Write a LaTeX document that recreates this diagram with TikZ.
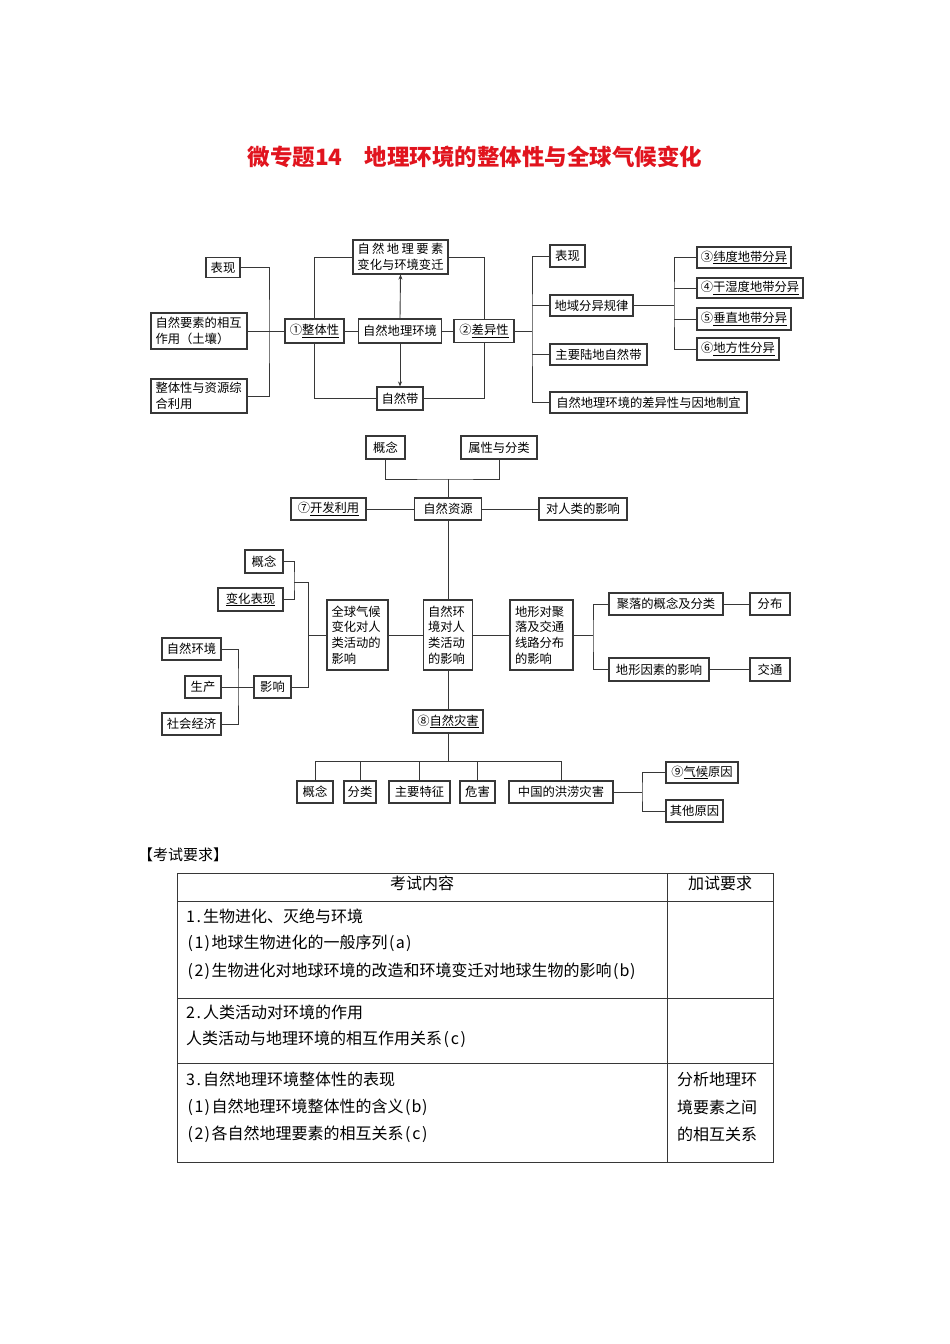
\documentclass[tikz,border=0pt]{standalone}
\usepackage{fontspec}
\setmainfont{Noto Sans CJK SC}
\usetikzlibrary{arrows.meta}
\definecolor{titlered}{RGB}{225,20,30}
\definecolor{ln}{RGB}{55,55,55}
\newcommand\uln[1]{\underline{#1}}
\def\hw#1{\hwi#1\relax}
\def\hwi#1{\ifx#1\relax\else\makebox[8.5pt]{#1}\expandafter\hwi\fi}
\tikzset{
  box/.style={draw=ln, line width=1.1pt, inner sep=0pt, font=\fontsize{12.3}{15.7}\selectfont, fill=white},
  conn/.style={draw=ln, line width=0.9pt},
  arr/.style={conn, -{Stealth[length=5pt,width=4pt]}},
  tx/.style={inner sep=0pt, anchor=west, font=\fontsize{16}{18}\selectfont},
}
\begin{document}
\begin{tikzpicture}[x=1pt,y=-1pt]
\useasboundingbox[fill=white] (0,0) rectangle (950,1344);

\node[font=\fontsize{22.5}{26}\selectfont\bfseries, text=titlered, inner sep=0pt] (title) at (475,157) {微专题14　地理环境的整体性与全球气候变化};

% ---------- top diagram ----------
\node[box, minimum width=34pt, minimum height=20pt] (t1) at (223,267.5) {表现};
\node[box, minimum width=96pt, minimum height=36pt, align=left, text width=87pt] (t2) at (199,331) {自然要素的相互\\作用（土壤）};
\node[box, minimum width=96pt, minimum height=34pt, align=left, text width=87pt] (t3) at (199,396) {整体性与资源综\\合利用};
\node[box, minimum width=59pt, minimum height=24pt] (a1) at (314.5,331) {①\uln{整体性}};
\node[box, minimum width=83pt, minimum height=24pt] (a2) at (400,331) {自然地理环境};
\node[box, minimum width=95pt, minimum height=34pt, align=center] (a3) at (400.5,257) {\makebox[86pt]{自\hfill 然\hfill 地\hfill 理\hfill 要\hfill 素}\\变化与环境变迁};
\node[box, minimum width=46pt, minimum height=23pt] (a4) at (400,398.5) {自然带};
\node[box, minimum width=60pt, minimum height=23pt] (b1) at (484,331) {②\uln{差异性}};
\node[box, minimum width=35pt, minimum height=22pt] (b2) at (567.5,256) {表现};
\node[box, minimum width=83pt, minimum height=21pt] (b3) at (591.5,305.5) {地域分异规律};
\node[box, minimum width=97pt, minimum height=21pt] (b4) at (598.5,354.5) {主要陆地自然带};
\node[box, minimum width=197pt, minimum height=21pt] (b5) at (648.5,402.5) {自然地理环境的差异性与因地制宜};
\node[box, minimum width=94pt, minimum height=21pt] (c3) at (744,257.5) {③\uln{纬度地带分异}};
\node[box, minimum width=106pt, minimum height=20pt] (c4) at (750,288) {④\uln{干湿度地带分异}};
\node[box, minimum width=94pt, minimum height=22pt] (c5) at (744,319) {⑤\uln{垂直地带分异}};
\node[box, minimum width=82pt, minimum height=22pt] (c6) at (738,349) {⑥\uln{地方性分异}};

\coordinate (lx) at (269,331);
\coordinate (rx) at (532,331);
\coordinate (cx) at (674,305.5);
\draw[conn] (t1.east) -| (lx) |- (t3.east);
\draw[conn] (t2.east) -- (a1.west);
\draw[conn] (a1.east) -- (a2.west);
\draw[conn] (a2.east) -- (b1.west);
\draw[conn] (a1.north) |- (a3.west);
\draw[conn] (a1.south) |- (a4.west);
\draw[conn] (a3.east) -| (b1.north);
\draw[conn] (a4.east) -| (b1.south);
\draw[arr] (a2.north) -- (a3.south);
\draw[arr] (a2.south) -- (a4.north);
\draw[conn] (b1.east) -- (rx);
\draw[conn] (b2.west) -| (rx) |- (b5.west);
\draw[conn] (rx |- b3.west) -- (b3.west);
\draw[conn] (rx |- b4.west) -- (b4.west);
\draw[conn] (b3.east) -- (cx);
\draw[conn] (c3.west) -| (cx) |- (c6.west);
\draw[conn] (cx |- c4.west) -- (c4.west);
\draw[conn] (cx |- c5.west) -- (c5.west);

% ---------- middle diagram ----------
\node[box, minimum width=39pt, minimum height=23pt] (m1) at (385.5,447.5) {概念};
\node[box, minimum width=76pt, minimum height=23pt] (m2) at (499,447.5) {属性与分类};
\node[box, minimum width=67pt, minimum height=22pt] (m3) at (448,509) {自然资源};
\node[box, minimum width=75pt, minimum height=22pt] (m4) at (328.5,509) {⑦\uln{开发利用}};
\node[box, minimum width=88pt, minimum height=22pt] (m5) at (583,509) {对人类的影响};
\coordinate (mj) at (448,479);
\draw[conn] (m1.south) |- (mj) -| (m2.south);
\draw[conn] (m3.north) -- (mj);
\draw[conn] (m4.east) -- (m3.west);
\draw[conn] (m3.east) -- (m5.west);

\node[box, minimum width=49pt, minimum height=70pt, align=left, text width=40pt] (n1) at (448,635) {自然环\\境对人\\类活动\\的影响};
\node[box, minimum width=61pt, minimum height=70pt, align=left, text width=52pt] (n2) at (357.5,635) {全球气候\\变化对人\\类活动的\\影响};
\node[box, minimum width=63pt, minimum height=70pt, align=left, text width=53pt] (n3) at (541.5,635) {地形对聚\\落及交通\\线路分布\\的影响};
\node[box, minimum width=114pt, minimum height=22pt] (n4) at (666,604) {聚落的概念及分类};
\node[box, minimum width=100pt, minimum height=23pt] (n5) at (659,669.5) {地形因素的影响};
\node[box, minimum width=40pt, minimum height=22pt] (n6) at (770,604) {分布};
\node[box, minimum width=40pt, minimum height=23pt] (n7) at (770,669.5) {交通};
\draw[conn] (m3.south) -- (n1.north);
\draw[conn] (n2.east) -- (n1.west);
\draw[conn] (n1.east) -- (n3.west);
\coordinate (nx) at (593,635);
\draw[conn] (n3.east) -- (nx);
\draw[conn] (n4.west) -| (nx) |- (n5.west);
\draw[conn] (n4.east) -- (n6.west);
\draw[conn] (n5.east) -- (n7.west);

\node[box, minimum width=38pt, minimum height=23pt] (k1) at (264,561.5) {概念};
\node[box, minimum width=65pt, minimum height=23pt] (k2) at (250.5,599.5) {\uln{变化表现}};
\node[box, minimum width=37pt, minimum height=22pt] (k3) at (272.5,687) {影响};
\node[box, minimum width=59pt, minimum height=22pt] (k4) at (191.5,649) {自然环境};
\node[box, minimum width=36pt, minimum height=22pt] (k5) at (203,687) {生产};
\node[box, minimum width=59pt, minimum height=22pt] (k6) at (191.5,724) {社会经济};
\coordinate (kx) at (294,582);
\coordinate (kv) at (308,582);
\coordinate (ky) at (308,635);
\coordinate (kz) at (238,687);
\draw[conn] (k1.east) -| (kx) |- (k2.east);
\draw[conn] (kx) -- (kv) |- (k3.east);
\draw[conn] (ky) -- (n2.west);
\draw[conn] (k4.east) -| (kz) |- (k6.east);
\draw[conn] (k5.east) -- (k3.west);

\node[box, minimum width=70pt, minimum height=23pt] (d1) at (448,721.5) {⑧\uln{自然灾害}};
\draw[conn] (n1.south) -- (d1.north);
\node[box, minimum width=36pt, minimum height=22pt] (e1) at (315,792) {概念};
\node[box, minimum width=32pt, minimum height=22pt] (e2) at (360,792) {分类};
\node[box, minimum width=61pt, minimum height=22pt] (e3) at (419.5,792) {主要特征};
\node[box, minimum width=35pt, minimum height=22pt] (e4) at (477.5,792) {危害};
\node[box, minimum width=104pt, minimum height=22pt] (e5) at (561,792) {中国的洪涝灾害};
\coordinate (dj) at (448,761);
\draw[conn] (d1.south) -- (dj);
\draw[conn] (e1.north) |- (dj) -| (e5.north);
\draw[conn] (e2.north) -- (e2.north |- dj);
\draw[conn] (e3.north) -- (e3.north |- dj);
\draw[conn] (e4.north) -- (e4.north |- dj);
\node[box, minimum width=72pt, minimum height=21pt] (f1) at (702,772.5) {⑨\uln{气候}原因};
\node[box, minimum width=57pt, minimum height=22pt] (f2) at (694.5,811) {其他原因};
\coordinate (fx) at (642,792);
\draw[conn] (e5.east) -- (fx);
\draw[conn] (f1.west) -| (fx) |- (f2.west);

% ---------- table ----------
\node[tx, font=\fontsize{15}{17}\selectfont] (req) at (138,855) {【考试要求】};
\draw[ln, line width=0.9pt] (177,873) rectangle (773,1162);
\draw[ln, line width=0.9pt] (667,873) -- (667,1162);
\draw[ln, line width=0.9pt] (177,901) -- (773,901);
\draw[ln, line width=0.9pt] (177,998) -- (773,998);
\draw[ln, line width=0.9pt] (177,1063) -- (773,1063);
\node[tx, anchor=center] (h1) at (422,883) {考试内容};
\node[tx, anchor=center] (h2) at (720,883) {加试要求};
\node[tx] (r1a) at (186,916) {\hw{1.}生物进化、灭绝与环境};
\node[tx] (r1b) at (186,943) {\hw{(1)}地球生物进化的一般序列\hw{(a)}};
\node[tx] (r1c) at (186,971) {\hw{(2)}生物进化对地球环境的改造和环境变迁对地球生物的影响\hw{(b)}};
\node[tx] (r2a) at (186,1012) {\hw{2.}人类活动对环境的作用};
\node[tx] (r2b) at (186,1039) {人类活动与地理环境的相互作用关系\hw{(c)}};
\node[tx] (r3a) at (186,1079) {\hw{3.}自然地理环境整体性的表现};
\node[tx] (r3b) at (186,1107) {\hw{(1)}自然地理环境整体性的含义\hw{(b)}};
\node[tx] (r3c) at (186,1134) {\hw{(2)}各自然地理要素的相互关系\hw{(c)}};
\node[tx] (s1) at (677,1079) {分析地理环};
\node[tx] (s2) at (677,1107) {境要素之间};
\node[tx] (s3) at (677,1134) {的相互关系};
\end{tikzpicture}
\end{document}
